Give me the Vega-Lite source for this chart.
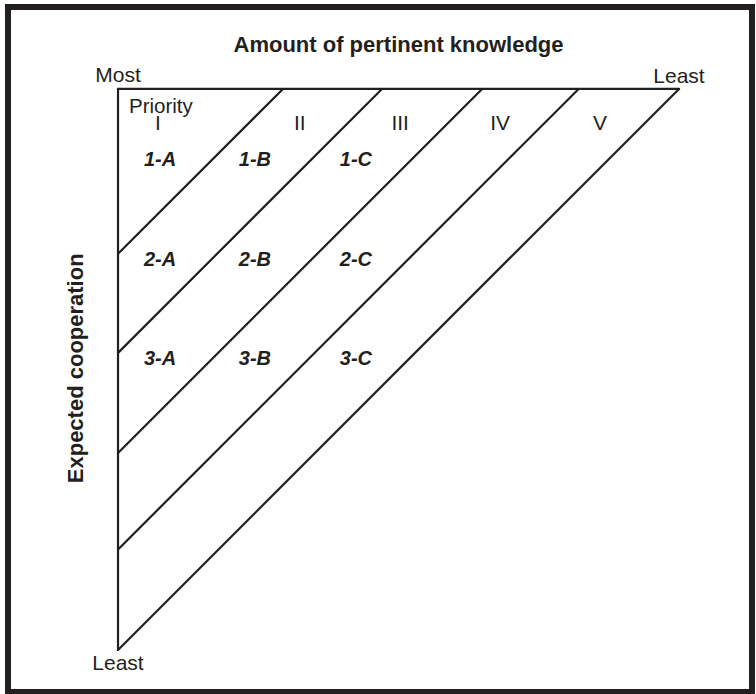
{
  "$schema": "https://vega.github.io/schema/vega-lite/v6.json",
  "width": 744,
  "height": 685,
  "autosize": {"type": "none"},
  "padding": {"left": 8, "top": 7, "right": 4, "bottom": 2},
  "background": "white",
  "config": {
    "view": {"stroke": "#231f20", "strokeWidth": 6},
    "text": {"font": "Liberation Sans", "color": "#231f20"}
  },
  "datasets": {
    "lines": [
      {"x": 0, "y": 0, "x2": 100, "y2": 0},
      {"x": 0, "y": 0, "x2": 0, "y2": 100},
      {"x": 29.4, "y": 0, "x2": 0, "y2": 29.4},
      {"x": 47.05, "y": 0, "x2": 0, "y2": 47.05},
      {"x": 64.9, "y": 0, "x2": 0, "y2": 64.9},
      {"x": 82.1, "y": 0, "x2": 0, "y2": 82.1},
      {"x": 100, "y": 0, "x2": 0, "y2": 100}
    ],
    "cells": [
      {"label": "1-A", "x": 7.5, "y": 13.7},
      {"label": "1-B", "x": 24.4, "y": 13.7},
      {"label": "1-C", "x": 42.4, "y": 13.7},
      {"label": "2-A", "x": 7.5, "y": 31.5},
      {"label": "2-B", "x": 24.4, "y": 31.5},
      {"label": "2-C", "x": 42.4, "y": 31.5},
      {"label": "3-A", "x": 7.5, "y": 49.3},
      {"label": "3-B", "x": 24.4, "y": 49.3},
      {"label": "3-C", "x": 42.4, "y": 49.3}
    ],
    "plain": [
      {"label": "I", "x": 7.1, "y": 7.3},
      {"label": "II", "x": 32.4, "y": 7.3},
      {"label": "III", "x": 50.3, "y": 7.3},
      {"label": "IV", "x": 68.1, "y": 7.3},
      {"label": "V", "x": 85.9, "y": 7.3},
      {"label": "Most", "x": 0, "y": -1.2},
      {"label": "Least", "x": 100, "y": -1.1},
      {"label": "Least", "x": 0, "y": 103.6}
    ],
    "priority": [
      {"label": "Priority", "x": 1.96, "y": 4.3}
    ],
    "titles": [
      {"label": "Amount of pertinent knowledge", "x": 50, "y": -7.9, "angle": 0},
      {"label": "Expected cooperation", "x": -7.4, "y": 49.8, "angle": 270}
    ]
  },
  "encoding": {
    "x": {"field": "x", "type": "quantitative", "scale": {"domain": [-19.61, 113.01]}, "axis": null},
    "y": {"field": "y", "type": "quantitative", "scale": {"domain": [-14.6, 107.5], "reverse": true}, "axis": null}
  },
  "layer": [
    {
      "data": {"name": "lines"},
      "mark": {"type": "rule", "color": "#231f20", "strokeWidth": 2.2, "strokeCap": "round"},
      "encoding": {
        "x2": {"field": "x2"},
        "y2": {"field": "y2"}
      }
    },
    {
      "data": {"name": "cells"},
      "mark": {"type": "text", "fontSize": 20, "fontWeight": "bold", "fontStyle": "italic", "align": "center", "baseline": "alphabetic"},
      "encoding": {"text": {"field": "label"}}
    },
    {
      "data": {"name": "plain"},
      "mark": {"type": "text", "fontSize": 21, "align": "center", "baseline": "alphabetic"},
      "encoding": {"text": {"field": "label"}}
    },
    {
      "data": {"name": "priority"},
      "mark": {"type": "text", "fontSize": 20.5, "align": "left", "baseline": "alphabetic"},
      "encoding": {"text": {"field": "label"}}
    },
    {
      "data": {"name": "titles"},
      "mark": {"type": "text", "fontSize": 22, "fontWeight": "bold", "align": "center", "baseline": "middle"},
      "encoding": {"text": {"field": "label"}, "angle": {"field": "angle", "type": "quantitative", "scale": null}}
    }
  ]
}
